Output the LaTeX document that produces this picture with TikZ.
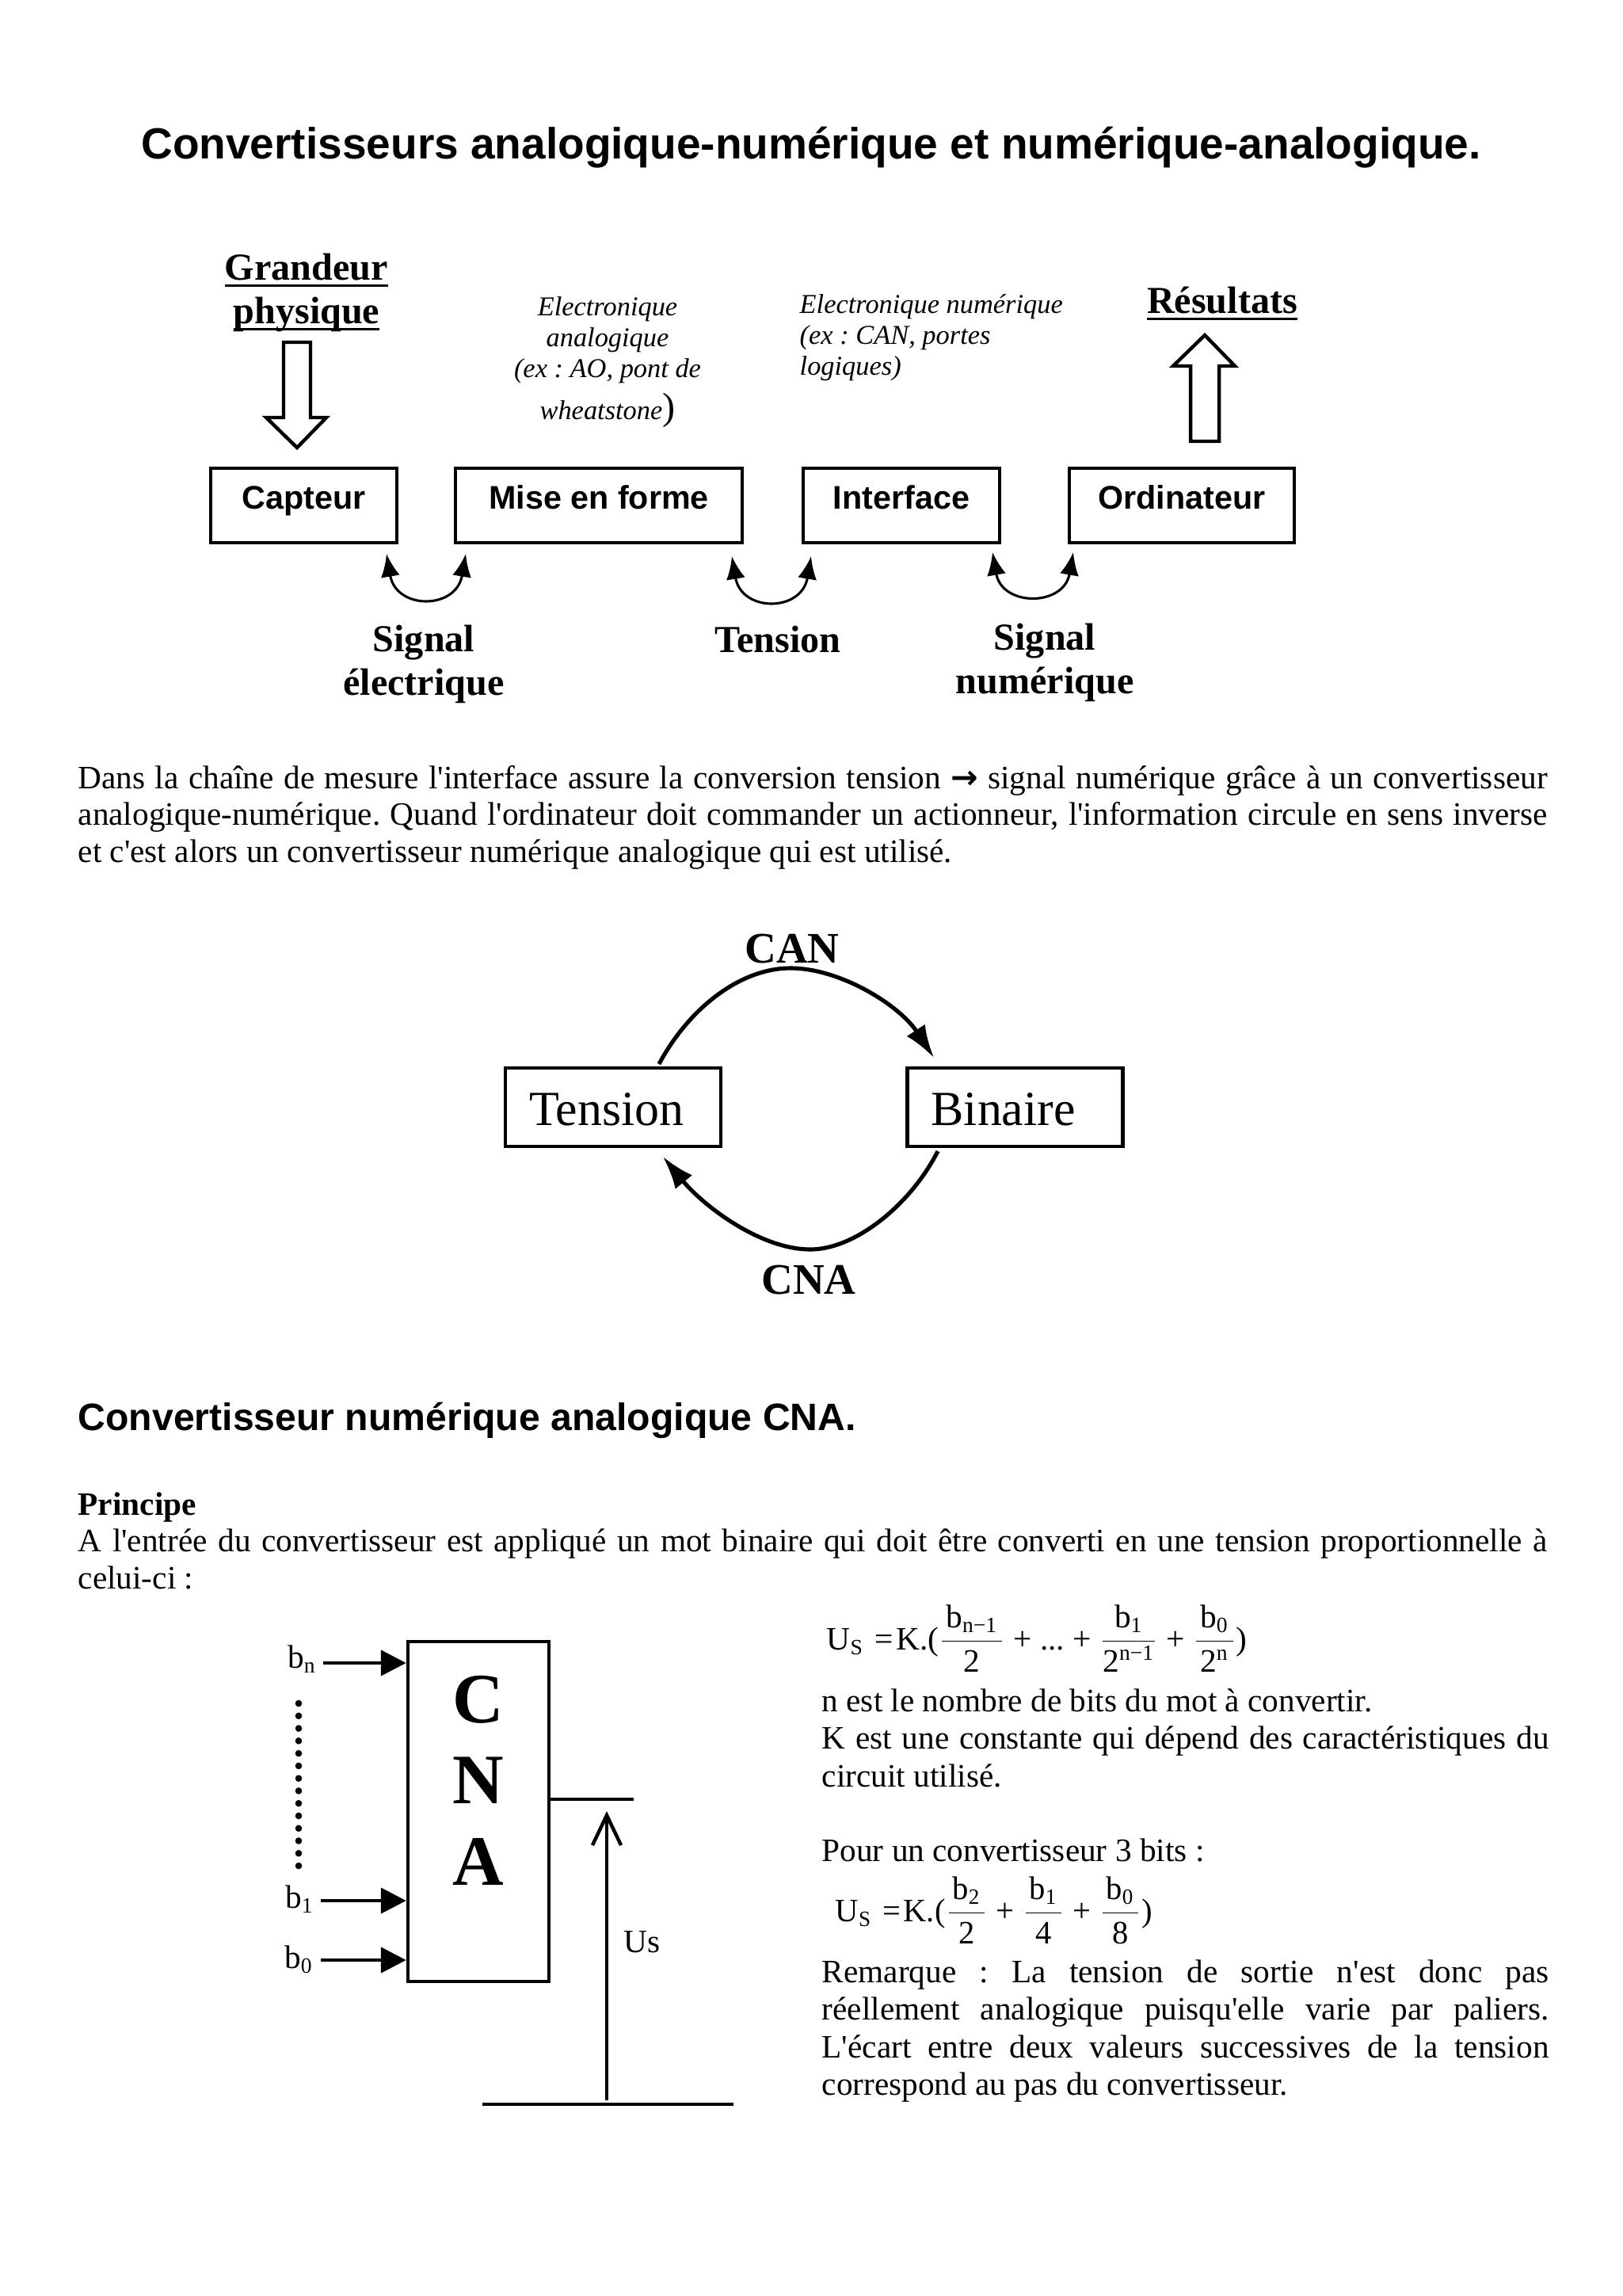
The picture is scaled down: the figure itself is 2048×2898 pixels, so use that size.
\documentclass[tikz,border=0pt]{standalone}
\usepackage{graphicx}
\usepackage{fontspec}
\setmainfont{Liberation Serif}[Ligatures=TeXOff]
\newfontfamily\arialf{Liberation Sans}
\newfontfamily\djvf{DejaVu Sans}
\usetikzlibrary{arrows.meta}
\newcommand\pxu{0.29066pt}
\newcommand\jl[1]{\hbox to\hsize{#1}}
\newcommand\fr[2]{$\displaystyle\frac{\hbox{\kern1.5pt#1\kern1.5pt}}{\hbox{#2}}$}
\newcommand\pl{\hspace{3pt}+\hspace{3pt}}
\newcommand\ulx[1]{\leavevmode\setbox0\hbox{#1}\rlap{\rule[-2.6pt]{\wd0}{1pt}}\box0}
\frenchspacing
\begin{document}
\frenchspacing
\begin{tikzpicture}[x=0.29066pt,y=-0.29066pt,
  every node/.style={inner sep=0pt},
  hdbox/.style={draw, line width=1pt, font=\arialf\bfseries\fontsize{12}{14}\selectfont,
    text height=8pt, text depth=5.2pt, minimum height=94*\pxu},
  tbox/.style={draw, line width=1.2pt, minimum height=99*\pxu, text width=212*\pxu,
    inner xsep=30*\pxu, inner ysep=0pt, align=left, font=\fontsize{18}{20}\selectfont,
    text height=14pt, text depth=0.4pt},
  lbl/.style={font=\bfseries\fontsize{14}{16}\selectfont},
  ita/.style={font=\itshape\fontsize{10}{11.4}\selectfont},
  body/.style={font=\fontsize{12}{13.8}\selectfont\frenchspacing},
  smallarc/.style={line width=0.9pt, {Latex[length=8.4pt,width=7pt]}-{Latex[length=8.4pt,width=7pt]}},
  bigarc/.style={line width=1.5pt, -{Latex[length=12pt,width=8pt]}},
  inarrow/.style={line width=1.3pt, -{Triangle[length=9.3pt,width=9.3pt]}},
  hollow/.style={draw, line width=1.3pt, fill=white, line join=miter}
]
\useasboundingbox[fill=white] (0,0) rectangle (2048,2898);

% Title
\node[anchor=base, font=\arialf\bfseries\fontsize{16}{19}\selectfont] (title) at (1024,200)
  {Convertisseurs analogique-numérique et numérique-analogique.};

% Top labels
\node[anchor=base, font=\bfseries\fontsize{14}{16}\selectfont] (grandeur) at (387,353)
  {\parbox[t]{80pt}{\centering\ulx{Grandeur}\\\ulx{physique}}};
\node[anchor=base, font=\bfseries\fontsize{14}{16}\selectfont] (resultats) at (1543,395)
  {\ulx{Résultats}};
\node[anchor=base, ita] (elana) at (767,398)
  {\parbox[t]{90pt}{\lineskiplimit=-100pt\centering Electronique\\analogique\\(ex : AO, pont de\\[3.9pt]wheatstone{\upshape\fontsize{14}{14}\selectfont)}}};
\node[anchor=base west, ita] (elnum) at (1009,395)
  {\vtop{\baselineskip=11.4pt\hbox{Electronique numérique}\hbox{(ex : CAN, portes}\hbox{logiques)}}};

% Hollow arrows
\draw[hollow] (358,432) -- (392,432) -- (392,527) -- (412,527) -- (375,565) -- (336,527) -- (358,527) -- cycle;
\draw[hollow] (1503,557) -- (1539,557) -- (1539,462) -- (1559,462) -- (1521,423) -- (1481,462) -- (1503,462) -- cycle;

% Chain boxes
\node[hdbox, minimum width=235*\pxu] (capteur) at (383.5,638) {Capteur};
\node[hdbox, minimum width=362*\pxu] (mise) at (756,638) {Mise en forme};
\node[hdbox, minimum width=248*\pxu] (interface) at (1138,638) {Interface};
\node[hdbox, minimum width=284*\pxu] (ordi) at (1492,638) {Ordinateur};

% Small double arcs
\coordinate (a1l) at (488,699); \coordinate (a1r) at (588,699);
\coordinate (a2l) at (924,702); \coordinate (a2r) at (1024,702);
\coordinate (a3l) at (1253,697); \coordinate (a3r) at (1355,697);
\draw[smallarc] (a1l) .. controls (500,770) and (576,770) .. (a1r);
\draw[smallarc] (a2l) .. controls (936,773) and (1012,773) .. (a2r);
\draw[smallarc] (a3l) .. controls (1265,766) and (1343,766) .. (a3r);

\node[anchor=base, lbl] (sigel) at (535,822) {\parbox[t]{90pt}{\centering Signal\\électrique}};
\node[anchor=base, lbl] (tenslbl) at (982,823) {Tension};
\node[anchor=base, lbl] (signum) at (1319,820) {\parbox[t]{90pt}{\centering Signal\\numérique}};

% Paragraph 1
\node[anchor=base west, body] (para1) at (98,995) {\vtop{\hsize=539.2pt\baselineskip=13.55pt
\jl{Dans la chaîne de mesure l'interface assure la conversion tension {\djvf\bfseries →} signal numérique grâce à un convertisseur}
\jl{analogique-numérique. Quand l'ordinateur doit commander un actionneur, l'information circule en sens inverse}
\hbox{et c'est alors un convertisseur numérique analogique qui est utilisé.}}};

% CAN / CNA diagram
\node[tbox] (tension) at (774,1397.5) {Tension};
\node[tbox] (binaire) at (1281.5,1397.5) {Binaire};
\coordinate (canS) at (832,1343); \coordinate (canE) at (1179,1335);
\coordinate (cnaS) at (1184,1453); \coordinate (cnaE) at (837,1460);
\draw[bigarc] (canS) .. controls (870,1272) and (935,1222) .. (998,1222)
  .. controls (1060,1222) and (1135,1268) .. (canE);
\draw[bigarc] (cnaS) .. controls (1150,1520) and (1080,1577) .. (1023,1577)
  .. controls (960,1577) and (888,1522) .. (cnaE);
\node[anchor=base, font=\bfseries\fontsize{16}{18}\selectfont] (canlbl) at (1000,1215) {CAN};
\node[anchor=base, font=\bfseries\fontsize{16}{18}\selectfont] (cnalbl) at (1021,1633) {CNA};

% Section heading
\node[anchor=base west, font=\arialf\bfseries\fontsize{14}{16}\selectfont] (sect) at (98,1805)
  {Convertisseur numérique analogique CNA.};
\node[anchor=base west, font=\bfseries\fontsize{12}{14}\selectfont] (principe) at (98,1912) {Principe};
\node[anchor=base west, body] (para2) at (98,1958) {\vtop{\hsize=539.2pt\baselineskip=13.7pt
\jl{A l'entrée du convertisseur est appliqué un mot binaire qui doit être converti en une tension proportionnelle à}
\hbox{celui-ci :}}};

% CNA block
\node[draw, line width=1.3pt, minimum width=178*\pxu, minimum height=429*\pxu] (cna) at (604,2286.5) {};
\node[anchor=base, font=\bfseries\fontsize{26}{29.8}\selectfont] (cnaletters) at (604,2174)
  {\parbox[t]{40pt}{\centering C\\N\\A}};
\coordinate (bnS) at (408,2099); \coordinate (b1S) at (405,2399); \coordinate (b0S) at (405,2474);
\draw[inarrow] (bnS) -- (bnS -| cna.west);
\draw[inarrow] (b1S) -- (b1S -| cna.west);
\draw[inarrow] (b0S) -- (b0S -| cna.west);
\node[anchor=base east, body] (bnl) at (400,2105) {b\textsubscript{n}};
\node[anchor=base east, body] (b1l) at (397,2408) {b\textsubscript{1}};
\node[anchor=base east, body] (b0l) at (396,2484) {b\textsubscript{0}};
\foreach \i in {0,...,13} \fill (377,2150+\i*15.77) circle[radius=1.25pt];
\coordinate (outE) at (800,2271);
\draw[line width=1.3pt] (outE -| cna.east) -- (outE);
\coordinate (usB) at (766,2651); \coordinate (usT) at (766,2286);
\coordinate (gndL) at (609,2656); \coordinate (gndR) at (926,2656);
\draw[line width=1.3pt, -{Straight Barb[length=11pt,width=10.5pt]}] (usB) -- (usT);
\draw[line width=1.3pt] (gndL) -- (gndR);
\node[anchor=base west, body] (uslbl) at (787,2464) {Us};

% Right column
\node[anchor=base west, body] (f1) at (1043,2082)
  {\resizebox{154.3pt}{\height}{U\textsubscript{S}\hspace{4pt}=\hspace{1pt}K.(\fr{b\textsubscript{n−1}}{2}\pl...\pl\fr{b\textsubscript{1}}{2\textsuperscript{n−1}}\pl\fr{b\textsubscript{0}}{2\textsuperscript{n}})}};
\node[anchor=base west, body] (blockA) at (1037,2160) {\vtop{\hsize=266.8pt\baselineskip=13.85pt
\hbox{n est le nombre de bits du mot à convertir.}
\jl{K est une constante qui dépend des caractéristiques du}
\hbox{circuit utilisé.}}};
\node[anchor=base west, body] (pour) at (1037,2349) {Pour un convertisseur 3 bits :};
\node[anchor=base west, body] (f2) at (1054,2425)
  {\resizebox{116.3pt}{\height}{U\textsubscript{S}\hspace{4pt}=\hspace{1pt}K.(\fr{b\textsubscript{2}}{2}\pl\fr{b\textsubscript{1}}{4}\pl\fr{b\textsubscript{0}}{8})}};
\node[anchor=base west, body] (blockB) at (1037,2502) {\vtop{\hsize=266.8pt\baselineskip=13.85pt
\jl{Remarque : La tension de sortie n'est donc pas}
\jl{réellement analogique puisqu'elle varie par paliers.}
\jl{L'écart entre deux valeurs successives de la tension}
\hbox{correspond au pas du convertisseur.}}};
\end{tikzpicture}
\end{document}
